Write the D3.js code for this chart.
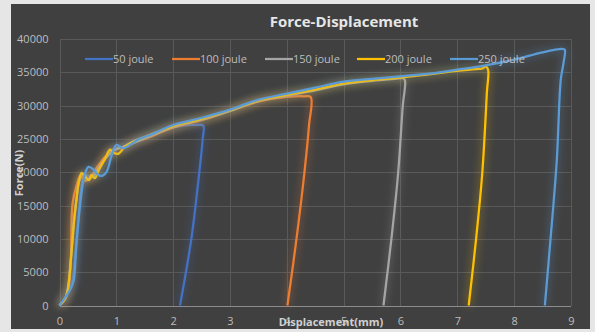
<!DOCTYPE html>
<html lang="en">
<head>
<meta charset="utf-8">
<title>Force-Displacement</title>
<script src="https://cdn.jsdelivr.net/npm/d3@7"></script>
<style>
  body { margin: 0; background: #e6e6e6; }
  svg text { font-family: "Open Sans", "Noto Sans", sans-serif; }
  .grid line { stroke: #595959; stroke-width: 1; shape-rendering: crispEdges; }
  .axis path, .axis line { display: none; }
  .axis text { fill: #bdbdbd; font-size: 11px; }
</style>
</head>
<body>
<script>
// chart data (displacement mm, force N)
var seriesNames = ["50 joule", "100 joule", "150 joule", "200 joule", "250 joule"];
var seriesColors = ["#4472c4", "#ed7d31", "#a5a5a5", "#ffc000", "#5b9bd5"];
var xTicks = [0, 1, 2, 3, 4, 5, 6, 7, 8, 9];
var yTicks = [0, 5000, 10000, 15000, 20000, 25000, 30000, 35000, 40000];

var s50 = [[0,0],[0.1,1200],[0.2,2800],[0.25,5000],[0.3,10000],[0.35,15000],[0.4,18500],[0.45,19600],
  [0.55,19300],[0.65,19800],[0.8,22000],[0.95,23500],[1.1,23800],[1.3,24700],[1.5,25300],[1.8,26300],
  [2.1,26900],[2.3,27100],[2.45,27100],[2.53,27000],[2.52,25000],[2.46,20000],[2.32,10000],[2.12,0]];
var s100 = [[0,0],[0.1,1000],[0.17,3300],[0.2,6800],[0.23,15300],[0.3,18000],[0.37,19500],[0.45,18700],
  [0.55,19300],[0.65,20600],[0.8,22300],[0.95,23300],[1.1,23700],[1.3,24500],[1.5,25000],[2.0,26700],
  [2.5,27800],[3.0,29200],[3.5,30600],[4.0,31300],[4.3,31400],[4.42,31300],[4.39,27000],[4.31,20000],
  [4.17,10000],[4.01,0]];
var s150 = [[0,0],[0.1,1100],[0.15,2800],[0.2,7000],[0.25,12500],[0.3,16000],[0.35,18800],[0.42,19700],
  [0.5,19000],[0.6,19500],[0.7,20800],[0.85,22500],[1.0,23500],[1.2,24000],[1.5,25100],[2.0,26800],
  [2.5,27900],[3.0,29200],[3.5,30700],[4.0,31500],[4.5,32300],[5.0,33200],[5.5,33700],[5.9,34000],
  [6.05,34100],[6.08,33700],[6.04,30000],[5.96,20000],[5.84,10000],[5.7,0]];
var s200 = [[0,0],[0.1,1000],[0.15,2500],[0.2,6800],[0.25,12000],[0.29,15300],[0.34,18500],[0.39,19900],
  [0.45,19300],[0.52,18800],[0.56,19600],[0.62,19100],[0.7,20500],[0.8,22000],[0.89,23400],[0.96,22900],
  [1.04,22800],[1.15,23800],[1.3,24600],[1.5,25300],[2.0,26900],[2.5,28000],[3.0,29300],[3.5,30800],
  [4.0,31600],[4.5,32400],[5.0,33300],[5.5,33800],[6.0,34200],[6.5,34700],[7.0,35200],[7.37,35500],
  [7.45,35600],[7.49,35900],[7.54,35400],[7.52,32000],[7.44,20000],[7.33,10000],[7.2,0]];
var s250 = [[0,0],[0.1,1200],[0.2,2600],[0.25,3800],[0.29,8300],[0.33,12300],[0.38,16500],[0.42,18800],
  [0.47,20300],[0.51,20800],[0.6,20400],[0.68,19600],[0.76,19500],[0.83,20100],[0.92,22600],[1.0,24100],
  [1.12,23600],[1.24,24100],[1.4,25000],[1.6,25600],[2.0,27100],[2.47,28100],[3.0,29400],[3.5,30900],
  [4.0,31800],[4.5,32700],[5.0,33600],[5.5,34000],[6.0,34400],[6.5,34800],[7.0,35400],[7.4,35900],
  [8.0,36900],[8.5,38000],[8.84,38500],[8.89,38400],[8.87,36500],[8.82,33900],[8.75,21800],[8.64,10000],
  [8.54,0]];
var allSeries = [s50, s100, s150, s200, s250];

var w = 595, h = 332;
var plot = {left: 59.5, right: 571, top: 39, bottom: 305.5};

var svg = d3.select("body").append("svg")
  .attr("width", w).attr("height", h);

// soft glow round each line
var defs = svg.append("defs");
var glow = defs.append("filter").attr("id", "glow")
  .attr("x", "-20%").attr("y", "-20%").attr("width", "140%").attr("height", "140%");
glow.append("feGaussianBlur").attr("in", "SourceGraphic").attr("stdDeviation", 4).attr("result", "blur");
glow.append("feComponentTransfer").attr("in", "blur").attr("result", "soft")
  .append("feFuncA").attr("type", "linear").attr("slope", 0.7);
var merge = glow.append("feMerge");
merge.append("feMergeNode").attr("in", "soft");
merge.append("feMergeNode").attr("in", "SourceGraphic");

// chart box
svg.append("rect")
  .attr("x", 11).attr("y", 4).attr("width", 579).attr("height", 325)
  .attr("fill", "#404040");

var x = d3.scaleLinear().domain([0, 9]).range([plot.left, plot.right]);
var y = d3.scaleLinear().domain([0, 40000]).range([plot.bottom, plot.top]);

// gridlines
var grid = svg.append("g").attr("class", "grid");
grid.selectAll(".hy").data(yTicks).enter().append("line")
  .attr("x1", plot.left).attr("x2", plot.right)
  .attr("y1", function(d){ return Math.round(y(d)) + 0.5; })
  .attr("y2", function(d){ return Math.round(y(d)) + 0.5; });
grid.selectAll(".vx").data(xTicks).enter().append("line")
  .attr("y1", plot.top).attr("y2", plot.bottom)
  .attr("x1", function(d){ return Math.round(x(d)) + 0.5; })
  .attr("x2", function(d){ return Math.round(x(d)) + 0.5; });
// bottom axis line
svg.append("line")
  .attr("x1", plot.left).attr("x2", plot.right)
  .attr("y1", Math.round(y(0)) + 0.5).attr("y2", Math.round(y(0)) + 0.5)
  .attr("stroke", "#8c8c8c").attr("shape-rendering", "crispEdges");

// axes (labels only)
svg.append("g").attr("class", "axis")
  .attr("transform", "translate(0," + (plot.bottom + 3) + ")")
  .call(d3.axisBottom(x).tickValues(xTicks).tickSize(0).tickPadding(9).tickFormat(d3.format("d")));
svg.append("g").attr("class", "axis")
  .attr("transform", "translate(" + (plot.left - 11) + ",0)")
  .call(d3.axisLeft(y).tickValues(yTicks).tickSize(0).tickPadding(0).tickFormat(d3.format("d")));

// series lines (smoothed like the spreadsheet chart)
var line = d3.line()
  .curve(d3.curveCatmullRom.alpha(0.5))
  .x(function(d){ return x(d[0]); })
  .y(function(d){ return y(d[1]); });

svg.append("g").selectAll("path")
  .data(allSeries)
  .enter().append("path")
  .attr("d", line)
  .attr("fill", "none")
  .attr("stroke", function(d, i){ return seriesColors[i]; })
  .attr("stroke-width", 2.25)
  .attr("stroke-linejoin", "round")
  .attr("filter", "url(#glow)");

// legend
var legendX = [85, 172, 265, 357, 450];
var legend = svg.append("g").selectAll("g")
  .data(seriesNames)
  .enter().append("g")
  .attr("transform", function(d, i){ return "translate(" + legendX[i] + ",59)"; });
legend.append("line")
  .attr("x1", 0).attr("x2", 28)
  .attr("stroke", function(d, i){ return seriesColors[i]; })
  .attr("stroke-width", 2.25);
legend.append("text")
  .attr("x", 28).attr("y", 4)
  .attr("fill", "#bdbdbd").attr("font-size", 11)
  .text(function(d){ return d; });

// title
svg.append("text")
  .attr("x", 344).attr("y", 27)
  .attr("text-anchor", "middle")
  .attr("fill", "#e6e6e6").attr("font-size", 15).attr("font-weight", "bold")
  .text("Force-Displacement");

// axis titles (they sit over a tick label, as in the original)
svg.append("text")
  .attr("transform", "translate(23,173) rotate(-90)")
  .attr("text-anchor", "middle")
  .attr("fill", "#d0d0d0").attr("font-size", 11).attr("font-weight", "bold")
  .text("Force(N)");
svg.append("text")
  .attr("x", 331).attr("y", 326)
  .attr("text-anchor", "middle")
  .attr("fill", "#d0d0d0").attr("font-size", 11).attr("font-weight", "bold")
  .text("Displacement(mm)");
</script>
</body>
</html>
